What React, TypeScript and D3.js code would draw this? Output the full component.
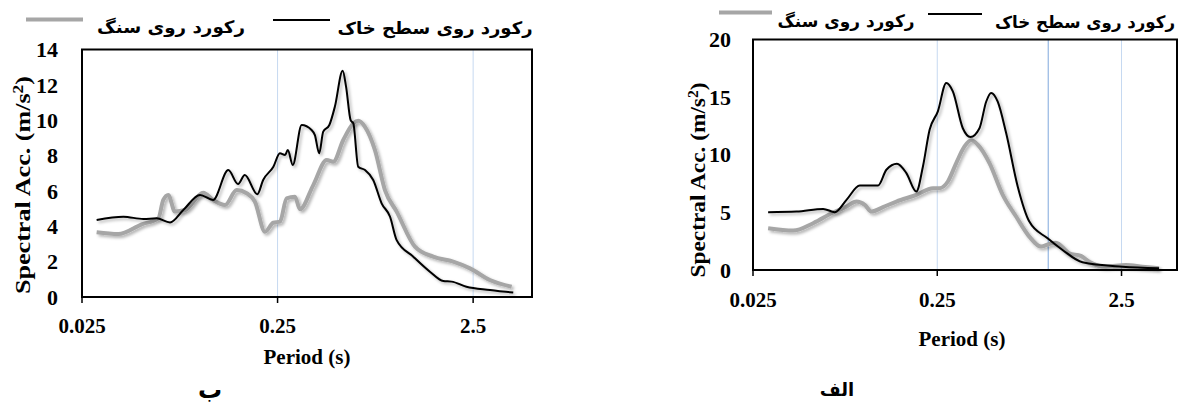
import React from "react";
import * as d3 from "d3";

// ---------- DATA ----------
// Chart "ب" (left)
const periodsB_soil = [0.0297,0.0407,0.0515,0.0602,0.0705,0.0824,0.1003,0.117,0.140,0.157,0.170,0.197,0.211,0.238,0.257,0.273,0.282,0.299,0.332,0.373,0.388,0.408,0.428,0.46,0.491,0.538,0.56,0.591,0.61,0.646,0.70,0.771,0.851,0.94,1.016,1.236,1.503,1.76,1.94,2.31,3.05,4.01];
const accB_soil = [4.36,4.54,4.41,4.45,4.22,4.92,5.77,5.49,7.18,6.39,6.9,5.81,6.62,7.37,8.13,8.03,8.31,7.47,9.73,9.45,9.16,8.13,9.35,9.73,10.77,12.8,11.9,10.0,9.82,7.37,7.18,6.62,5.3,4.54,3.22,2.28,1.43,0.9,0.87,0.58,0.4,0.25];
const periodsB_rock = [0.0297,0.0383,0.0505,0.0614,0.0651,0.069,0.0747,0.0841,0.1042,0.1172,0.1346,0.1545,0.1738,0.1915,0.2156,0.2377,0.2571,0.2781,0.3068,0.3254,0.3806,0.4457,0.4817,0.5418,0.6094,0.6464,0.6995,0.7869,0.885,1.016,1.26,1.563,1.977,2.409,3.045,3.934];
const accB_rock = [3.66,3.56,4.11,4.45,5.49,5.77,4.83,4.92,5.9,5.49,5.2,6.05,5.87,5.39,3.69,4.2,4.26,5.58,5.67,4.96,6.33,7.75,7.65,8.88,9.82,9.97,9.63,8.31,6.05,4.83,2.85,2.28,2.0,1.62,0.96,0.58];

// Chart "الف" (right)
const periodsA_soil = [0.0302,0.0431,0.0601,0.0695,0.0804,0.0949,0.1098,0.1192,0.1324,0.1511,0.1699,0.1925,0.209,0.2272,0.2519,0.2797,0.3037,0.344,0.3787,0.4236,0.4606,0.4901,0.5322,0.5908,0.683,0.7898,0.9926,1.196,1.535,2.528,3.995];
const accA_soil = [5.02,5.07,5.3,5.02,6.09,7.33,7.33,7.33,8.7,9.22,8.41,6.81,8.98,12.17,13.77,16.23,15.5,12.3,11.54,12.3,14.6,15.36,14.6,11.9,7.25,4.2,2.75,1.74,0.67,0.29,0.15];
const periodsA_rock = [0.0302,0.0413,0.053,0.068,0.0804,0.0911,0.1011,0.1098,0.1269,0.15,0.1925,0.2367,0.2573,0.2854,0.3168,0.3514,0.3821,0.4148,0.48,0.5665,0.6694,0.7898,0.9142,1.0137,1.102,1.301,1.505,1.669,2.056,2.639,3.245,3.995];
const accA_rock = [3.62,3.42,4.06,4.99,5.5,5.94,5.65,5.07,5.45,5.94,6.52,7.1,7.1,7.68,9.28,10.72,11.25,10.87,9.28,6.52,4.64,2.9,2.03,2.26,2.37,1.45,1.22,0.72,0.29,0.43,0.29,0.15];

const xTickValues = [0.025, 0.25, 2.5];
const xTickLabels = ["0.025", "0.25", "2.5"];
const yTicksB = [0, 2, 4, 6, 8, 10, 12, 14];
const yTicksA = [0, 5, 10, 15, 20];
const legendRock = "رکورد روی سنگ";
const legendSoil = "رکورد روی سطح خاک";
const xTitle = "Period (s)";
const subLabelB = "ب";
const subLabelA = "الف";

const SERIF = "'Liberation Serif', 'Times New Roman', serif";
const ARAB = "'DejaVu Sans', sans-serif";

type Cfg = {
  id: string;
  x0: number; x1: number; y0: number; y1: number;
  yMax: number; yTicks: number[];
  soilT: number[]; soilV: number[]; rockT: number[]; rockV: number[];
  tickLabelX: number; xLabelY: number;
  titleX: number; titleY: number;
  yTitleX: number; yTitleY: number; yTitleLen: number;
  lg: { gx0: number; gx1: number; gy: number; t1c: number; t1w: number; t1y: number; bx0: number; bx1: number; by: number; t2c: number; t2w: number; t2y: number };
  sub: string; subX: number; subY: number; subSize: number;
  extraGrid: number[];
};

function Chart({ c }: { c: Cfg }) {
  const x = d3.scaleLog().domain([0.025, 5]).range([c.x0, c.x1]);
  const y = d3.scaleLinear().domain([0, c.yMax]).range([c.y1, c.y0]);
  const line = d3.line<[number, number]>().x(d => x(d[0])).y(d => y(d[1])).curve(d3.curveMonotoneX);
  const soil = line(c.soilT.map((t, i) => [t, c.soilV[i]] as [number, number])) || "";
  const rock = line(c.rockT.map((t, i) => [t, c.rockV[i]] as [number, number])) || "";
  return (
    <g>
      {xTickValues.slice(1).map(v => (
        <line key={"g" + v} x1={x(v)} x2={x(v)} y1={c.y0} y2={c.y1} stroke="#c6d9f1" strokeWidth={1} />
      ))}
      {c.extraGrid.map(v => (
        <line key={"e" + v} x1={x(v)} x2={x(v)} y1={c.y0} y2={c.y1} stroke="#7fa7dc" strokeWidth={1} />
      ))}
      <path d={rock} fill="none" stroke="#a6a6a6" strokeWidth={4} strokeLinejoin="round" filter={`url(#sh-${c.id})`} />
      <path d={soil} fill="none" stroke="#000" strokeWidth={2} strokeLinejoin="round" filter={`url(#sh-${c.id})`} />
      <rect x={c.x0} y={c.y0} width={c.x1 - c.x0} height={c.y1 - c.y0} fill="none" stroke="#000" strokeWidth={2} />
      {xTickValues.map(v => (
        <line key={"t" + v} x1={x(v)} x2={x(v)} y1={c.y1} y2={c.y1 + 6} stroke="#000" strokeWidth={1.5} />
      ))}
      {c.yTicks.map(v => (
        <text key={"y" + v} x={c.tickLabelX} y={y(v)} dy="0.35em" textAnchor="end" fontFamily={SERIF} fontWeight="bold" fontSize={22}>{v}</text>
      ))}
      {xTickValues.map((v, i) => (
        <text key={"x" + v} x={x(v)} y={c.xLabelY} dy="0.35em" textAnchor="middle" fontFamily={SERIF} fontWeight="bold" fontSize={21}>{xTickLabels[i]}</text>
      ))}
      <text x={c.titleX} y={c.titleY} dy="0.35em" textAnchor="middle" fontFamily={SERIF} fontWeight="bold" fontSize={21}>{xTitle}</text>
      <text transform={`translate(${c.yTitleX},${c.yTitleY}) rotate(-90)`} dy="0.35em" textAnchor="middle" fontFamily={SERIF} fontWeight="bold" fontSize={21} textLength={c.yTitleLen} lengthAdjust="spacingAndGlyphs">
        Spectral Acc. (m/s<tspan baselineShift="super" fontSize={14}>2</tspan>)
      </text>
      <line x1={c.lg.gx0} x2={c.lg.gx1} y1={c.lg.gy} y2={c.lg.gy} stroke="#a6a6a6" strokeWidth={4} />
      <text x={c.lg.t1c} y={c.lg.t1y} dy="0.35em" textAnchor="middle" fontFamily={ARAB} fontWeight="bold" fontSize={17} textLength={c.lg.t1w} lengthAdjust="spacingAndGlyphs">{legendRock}</text>
      <line x1={c.lg.bx0} x2={c.lg.bx1} y1={c.lg.by} y2={c.lg.by} stroke="#000" strokeWidth={2} />
      <text x={c.lg.t2c} y={c.lg.t2y} dy="0.35em" textAnchor="middle" fontFamily={ARAB} fontWeight="bold" fontSize={17} textLength={c.lg.t2w} lengthAdjust="spacingAndGlyphs">{legendSoil}</text>
      <text x={c.subX} y={c.subY} dy="0.35em" textAnchor="middle" fontFamily={ARAB} fontWeight="bold" fontSize={c.subSize}>{c.sub}</text>
    </g>
  );
}

const cfgB: Cfg = {
  id: "b",
  x0: 82, x1: 532, y0: 49.5, y1: 297,
  yMax: 14, yTicks: yTicksB,
  soilT: periodsB_soil, soilV: accB_soil, rockT: periodsB_rock, rockV: accB_rock,
  tickLabelX: 58, xLabelY: 326,
  titleX: 307, titleY: 357,
  yTitleX: 23, yTitleY: 185, yTitleLen: 218,
  lg: { gx0: 26, gx1: 83, gy: 19.5, t1c: 171, t1w: 148, t1y: 27, bx0: 273, bx1: 330, by: 20, t2c: 435, t2w: 195, t2y: 28 },
  sub: subLabelB, subX: 210, subY: 390, subSize: 24,
  extraGrid: [],
};

const cfgA: Cfg = {
  id: "a",
  x0: 753, x1: 1177, y0: 39.5, y1: 270,
  yMax: 20, yTicks: yTicksA,
  soilT: periodsA_soil, soilV: accA_soil, rockT: periodsA_rock, rockV: accA_rock,
  tickLabelX: 731, xLabelY: 300,
  titleX: 962, titleY: 339,
  yTitleX: 698, yTitleY: 180, yTitleLen: 195,
  lg: { gx0: 719, gx1: 772, gy: 12.5, t1c: 846, t1w: 137, t1y: 21.5, bx0: 928, bx1: 982, by: 14, t2c: 1085, t2w: 180, t2y: 22.5 },
  sub: subLabelA, subX: 837, subY: 390, subSize: 18,
  extraGrid: [1.0],
};

export default function App() {
  return (
    <svg width={1181} height={405} style={{ position: "absolute", left: 0, top: 0, background: "#fff" }}>
      <defs>
        {["a", "b"].map(id => (
          <filter key={id} id={`sh-${id}`} x="-5%" y="-10%" width="110%" height="125%">
            <feGaussianBlur in="SourceAlpha" stdDeviation="1.6" />
            <feOffset dx="1.5" dy="2" result="ob" />
            <feFlood floodColor="#000" floodOpacity="0.3" />
            <feComposite in2="ob" operator="in" />
            <feMerge>
              <feMergeNode />
              <feMergeNode in="SourceGraphic" />
            </feMerge>
          </filter>
        ))}
      </defs>
      <rect x={0} y={0} width={1181} height={405} fill="#fff" />
      <Chart c={cfgB} />
      <Chart c={cfgA} />
    </svg>
  );
}
